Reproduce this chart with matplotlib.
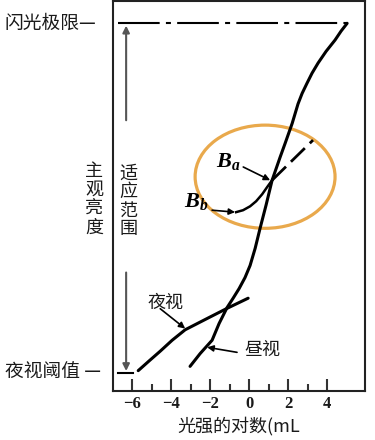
import matplotlib
matplotlib.use("Agg")
import matplotlib.pyplot as plt
from matplotlib.patches import Ellipse

plt.rcParams['font.family'] = ['Noto Sans CJK SC', 'DejaVu Sans']
plt.rcParams['mathtext.fontset'] = 'custom'
plt.rcParams['mathtext.it'] = 'Liberation Serif:bold:italic'
plt.rcParams['mathtext.rm'] = 'Liberation Serif:bold'

# photopic curve (昼视), continues up to the flash limit
day_x = [-3.03, -2.51, -1.90, -1.54, -1.13, -0.82, -0.51, -0.21, 0.05, 0.31,
         0.56, 0.87, 1.18, 1.59, 1.85, 2.21, 2.51, 2.72, 2.97, 3.23, 3.54,
         3.95, 4.41, 4.72, 5.03]
day_y = [6.2, 9.5, 12.9, 17.2, 21.3, 23.7, 26.2, 29.0, 32.1, 36.5,
         41.6, 47.6, 54.0, 59.9, 63.5, 68.6, 73.6, 76.3, 78.9, 81.5, 84.1,
         87.1, 90.0, 92.3, 94.3]

# scotopic curve (夜视)
night_x = [-5.69, -5.13, -4.56, -3.95, -3.28, -2.15, -1.13, -0.05]
night_y = [5.1, 7.6, 10.1, 12.9, 15.6, 18.5, 21.1, 23.7]

# Ba dashed extension and Bb adapted branch
ba_x = [1.18, 3.28]
ba_y = [54.0, 64.3]
bb_x = [1.18, 0.92, 0.67, 0.36, 0.05, -0.31, -0.67]
bb_y = [54.0, 52.2, 50.4, 48.6, 47.3, 46.3, 45.8]

flash_y = 94.3      # 闪光极限
thresh_y = 4.6      # 夜视阈值
xticks = [-6, -4, -2, 0, 2, 4]
minor_ticks = [-5, -3, -1, 1, 3]

fig = plt.figure(figsize=(3.75, 4.4), dpi=100)
ax = fig.add_axes([0.3005, 0.1125, 0.673, 0.885])
ax.set_xlim(-7, 5.95)
ax.set_ylim(0, 100)

dark = '#1a1a1a'
grey = '#555555'

ax.plot(day_x, day_y, color='k', lw=2.2, solid_capstyle='round',
        solid_joinstyle='round')
ax.plot(night_x, night_y, color='k', lw=2.2, solid_capstyle='round',
        solid_joinstyle='round')
ax.plot(ba_x, ba_y, color='k', lw=2.0, linestyle=(0, (7, 2.5)))
ax.plot(bb_x, bb_y, color='k', lw=1.8, solid_joinstyle='round')

# flash limit line
ax.plot([-6.72, 5.03], [flash_y, flash_y], color='k', lw=1.5,
        linestyle=(0, (20, 3, 2.4, 3)))
# threshold bar
ax.plot([-6.72, -5.95], [thresh_y, thresh_y], color='k', lw=1.5)

# adaptation range arrows
ax.annotate('', xy=(-6.31, flash_y - 0.6), xytext=(-6.31, 69.4),
            arrowprops=dict(arrowstyle='-|>', color=grey, lw=1.5,
                            mutation_scale=10, shrinkA=0, shrinkB=0))
ax.annotate('', xy=(-6.31, thresh_y + 0.4), xytext=(-6.31, 30.3),
            arrowprops=dict(arrowstyle='-|>', color=grey, lw=1.5,
                            mutation_scale=10, shrinkA=0, shrinkB=0))

ax.text(-6.2, 48.6, '\n'.join('适应范围'), fontsize=13, color=dark,
        ha='center', va='center', linespacing=1.05)
ax.text(-7.95, 49.1, '\n'.join('主观亮度'), fontsize=13, color=dark,
        ha='center', va='center', linespacing=1.05, clip_on=False)

fig.text(0.011, 1 - 23 / 440, '闪光极限—', fontsize=13.5, color=dark,
         ha='left', va='center')
fig.text(0.013, 1 - 371 / 440, '夜视阈值 —', fontsize=13.5, color=dark,
         ha='left', va='center')

arr = dict(arrowstyle='-|>', color='k', lw=1.2, mutation_scale=9,
           shrinkA=0, shrinkB=0)
ax.text(-4.31, 22.6, '夜视', fontsize=13, color=dark, ha='center', va='center')
ax.annotate('', xy=(-3.28, 15.9), xytext=(-4.56, 21.0), arrowprops=arr)
ax.text(0.67, 10.3, '昼视', fontsize=13, color=dark, ha='center', va='center')
ax.annotate('', xy=(-2.15, 11.1), xytext=(-0.62, 9.8), arrowprops=arr)

ax.text(-1.08, 59.1, '$B_a$', fontsize=16, color='k', ha='center', va='center')
ax.annotate('', xy=(1.08, 54.0), xytext=(-0.3, 57.4), arrowprops=arr)
ax.text(-2.72, 48.8, '$B_b$', fontsize=16, color='k', ha='center', va='center')
ax.annotate('', xy=(-0.72, 45.8), xytext=(-1.9, 46.3), arrowprops=arr)

ax.add_patch(Ellipse((0.82, 54.9), 7.18, 26.5, fill=False,
                     edgecolor='#E9A94C', lw=2.3))

ax.set_xticks(xticks)
ax.set_xticks(minor_ticks, minor=True)
ax.set_xticklabels(['−6', '−4', '−2', '0', '2', '4'],
                   fontfamily='Liberation Serif', fontweight='bold',
                   fontsize=12, color=dark)
ax.tick_params(axis='x', which='major', direction='in', length=8.5,
               width=1.5, color='#333333', pad=4)
ax.tick_params(axis='x', which='minor', direction='in', length=5,
               width=1.5, color='#333333')
ax.set_yticks([])
for s in ax.spines.values():
    s.set_linewidth(1.5)
    s.set_color('#222222')

ax.set_xlabel('光强的对数(mL', fontsize=13, color=dark, labelpad=3)

fig.savefig('out.png', dpi=100)
